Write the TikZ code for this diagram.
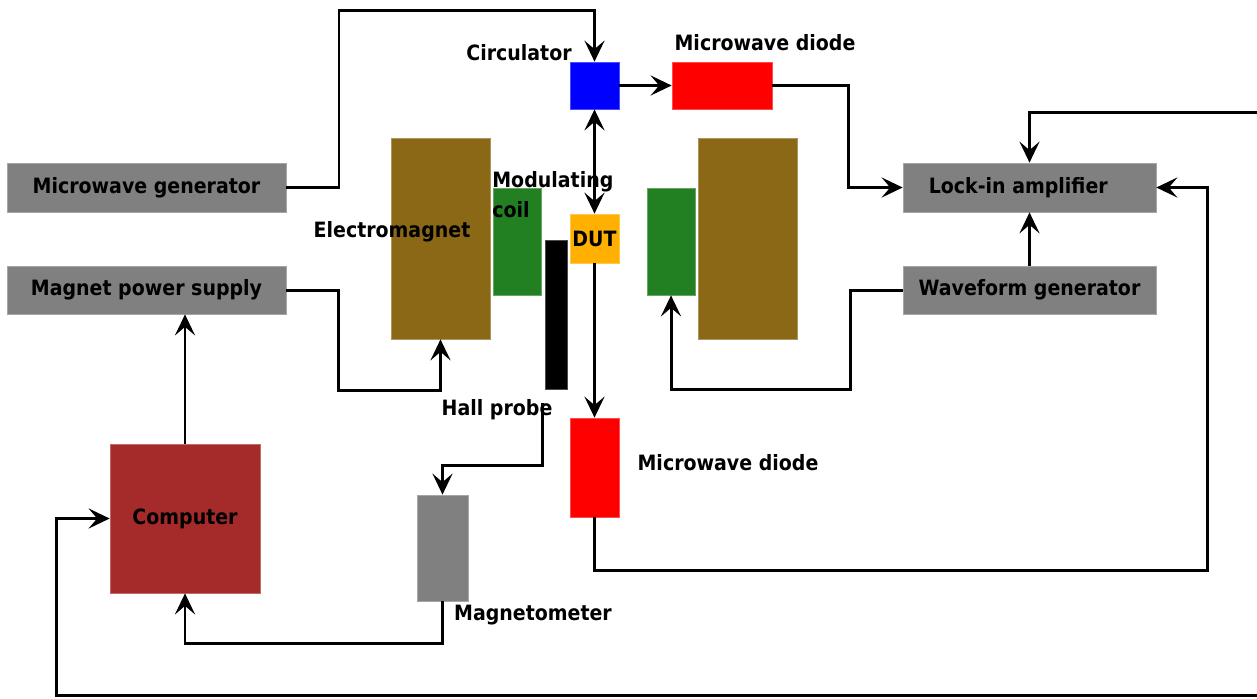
\documentclass[tikz,border=0pt]{standalone}
\usepackage{fontspec}
\setmainfont{DejaVu Sans}[FakeStretch=0.9]
\usetikzlibrary{arrows.meta, positioning}

\definecolor{unitgray}{RGB}{128,128,128}
\definecolor{magbrown}{RGB}{139,104,22}
\definecolor{coilgreen}{RGB}{34,128,34}
\definecolor{dutorange}{RGB}{255,176,0}
\definecolor{pcred}{RGB}{165,42,42}

\begin{document}
\begin{tikzpicture}[
    x=0.02cm, y=-0.02cm,
    font=\fontsize{12}{15}\selectfont\bfseries,
    unit/.style={
      fill=unitgray,
      draw=unitgray!70!white,
      line width=0.4pt,
      inner sep=0pt
    },
    part/.style={
      draw=#1!70!white,
      fill=#1,
      line width=0.4pt,
      inner sep=0pt
    },
    lbl/.style={inner sep=0pt},
    arrow/.style={-{Stealth[length=4.2mm, width=4mm, inset=1.7mm]}, line width=1.7pt},
    twoway/.style={{Stealth[length=4.2mm, width=4mm, inset=1.7mm]}-{Stealth[length=4.2mm, width=4mm, inset=1.7mm]}, line width=1.7pt}
  ]
    \useasboundingbox (0,0) rectangle (1257,698);

    % instruments
    \node[unit, minimum width=5.58cm, minimum height=0.98cm] (mwgen) at (146.5,187.5) {Microwave generator};
    \node[unit, minimum width=5.58cm, minimum height=0.96cm] (magps) at (146.5,290) {Magnet power supply};
    \node[unit, minimum width=5.06cm, minimum height=0.98cm] (lockin) at (1029.5,187.5) {\hspace*{-0.45cm}Lock-in amplifier};
    \node[unit, minimum width=5.06cm, minimum height=0.96cm] (wavegen) at (1029.5,290) {Waveform generator};
    \node[part=pcred, minimum width=3cm, minimum height=2.98cm] (computer) at (185,518.5) {Computer};
    \node[part=unitgray, minimum width=1.02cm, minimum height=2.12cm] (magmeter) at (442.5,548) {};

    % magnet and sample
    \node[part=magbrown, minimum width=1.98cm, minimum height=4.02cm] (magL) at (440.5,238.5) {};
    \node[part=magbrown, minimum width=1.98cm, minimum height=4.02cm] (magR) at (747.5,238.5) {};
    \node[part=coilgreen, minimum width=0.96cm, minimum height=2.14cm] (coilL) at (517,241.5) {};
    \node[part=coilgreen, minimum width=0.96cm, minimum height=2.14cm] (coilR) at (671,241.5) {};
    \node[part=black, minimum width=0.44cm, minimum height=2.98cm] (hall) at (556,314.5) {};
    \node[part=blue, minimum width=0.98cm, minimum height=0.94cm] (circ) at (594.5,85.5) {};
    \node[part=red, minimum width=2cm, minimum height=0.94cm] (diodeT) at (722,85.5) {};
    \node[part=dutorange, minimum width=0.98cm, minimum height=0.98cm] (dut) at (594.5,238.5) {DUT};
    \node[part=red, minimum width=0.98cm, minimum height=1.98cm] (diodeB) at (594.5,467.5) {};

    % labels
    \node[lbl] (circlbl) at (519,53) {Circulator};
    \node[lbl] (diodeTlbl) at (765,43) {Microwave diode};
    \node[lbl] (maglbl) at (392,232) {Electromagnet};
    \node[lbl, anchor=west, align=left] (coillbl) at (492,195) {Modulating\\[2pt]coil};
    \node[lbl] (halllbl) at (497,410) {Hall probe};
    \node[lbl] (diodeBlbl) at (728,463) {Microwave diode};
    \node[lbl] (magmeterlbl) at (533,615) {Magnetometer};

    % connections
    \coordinate (rt) at (1207,570);
    \coordinate (edgeT) at (1257,112);
    \coordinate (edgeB) at (1257,695);

    \draw[arrow] (mwgen.east) -| (339,10) -| (circ.north);
    \draw[arrow] (circ.east) -- (diodeT.west);
    \draw[twoway] (circ.south) -- (dut.north);
    \draw[arrow] (diodeT.east) -- ++(76,0) |- (lockin.west);
    \draw[arrow] (wavegen.north) -- (lockin.south);
    \draw[arrow] (wavegen.west) -- ++(-52,0) -- ++(0,99) -| (coilR.south);
    \draw[arrow] (magps.east) -- ++(52,0) -- ++(0,100) -| (magL.south);
    \draw[arrow] (computer.north) -- (computer.north |- magps.south);
    \draw[arrow] (dut.south) -- (diodeB.north);
    \draw[arrow] ([shift={(-2,14)}]hall.south west) -- ++(0,62) -| (magmeter.north);
    \draw[arrow] (magmeter.south) -- ++(0,42) -| (computer.south);
    \draw[arrow] (diodeB.south) |- (rt) |- (lockin.east);
    \draw[arrow] (edgeT) -| (lockin.north);
    \draw[arrow] (edgeB) -| ([xshift=-1.06cm]computer.west) -- (computer.west);
  \end{tikzpicture}
\end{document}
